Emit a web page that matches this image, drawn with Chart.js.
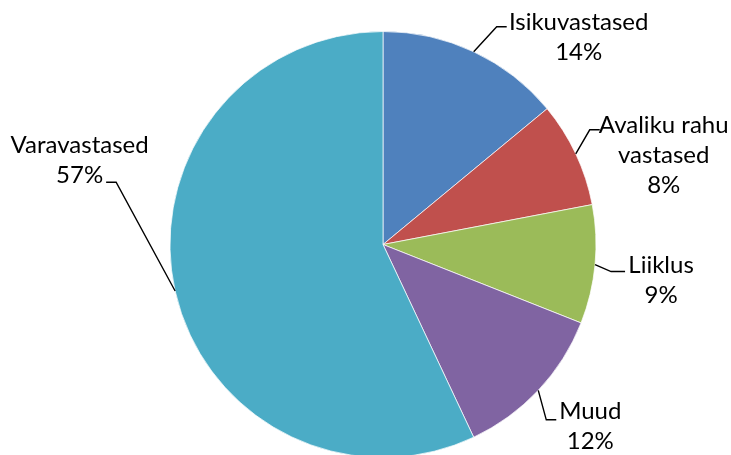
<!DOCTYPE html>
<html>
<head>
<meta charset="utf-8">
<script src="https://cdn.jsdelivr.net/npm/chart.js@4/dist/chart.umd.min.js"></script>
<style>
  html, body { margin: 0; padding: 0; background: #fff; }
  #wrap { width: 731px; height: 455px; }
</style>
</head>
<body>
<div id="wrap"><canvas id="pie" width="731" height="455"></canvas></div>
<script>
const categories = ['Isikuvastased', 'Avaliku rahu vastased', 'Liiklus', 'Muud', 'Varavastased'];
const shares = [14, 8, 9, 12, 57];
const sliceColors = ['#4F81BD', '#C0504D', '#9BBB59', '#8064A2', '#4BACC6'];

// leader line + text placement, relative to the slice's outer midpoint
const labelLayout = [
    { elbow: [23, -25], tail: 10, text: [72, -4.5], wrap: Infinity },
    { elbow: [14, -24], tail: 10, text: [64, -5], wrap: 140 },
    { elbow: [16, 7], tail: 14, text: [36, -6.5], wrap: Infinity },
    { elbow: [8, 29.5], tail: 10, text: [34, -8.5], wrap: Infinity },
    { elbow: [-59, -108.7], tail: -10, text: [-26.5, -36.5], wrap: Infinity }
];

const FONT = '24px Lato';
const LINE_H = 30;

function wrapText(ctx, str, maxW) {
    const words = str.split(' ');
    const lines = [];
    let cur = '';
    words.forEach(w => {
        const test = cur ? cur + ' ' + w : w;
        if (cur && ctx.measureText(test).width > maxW) {
            lines.push(cur);
            cur = w;
        } else {
            cur = test;
        }
    });
    if (cur) lines.push(cur);
    return lines;
}

const leaderLabels = {
    id: 'leaderLabels',
    afterDraw(chart) {
        const ctx = chart.ctx;
        const meta = chart.getDatasetMeta(0);
        const total = shares.reduce((a, b) => a + b, 0);
        ctx.save();
        ctx.font = FONT;
        ctx.fillStyle = '#000';
        ctx.strokeStyle = '#000';
        ctx.lineWidth = 1.4;
        ctx.textAlign = 'center';
        ctx.textBaseline = 'middle';
        meta.data.forEach((arc, i) => {
            const p = arc.getProps(['x', 'y', 'startAngle', 'endAngle', 'outerRadius'], true);
            const mid = (p.startAngle + p.endAngle) / 2;
            const sx = p.x + Math.cos(mid) * p.outerRadius;
            const sy = p.y + Math.sin(mid) * p.outerRadius;
            const lay = labelLayout[i];
            const ex = sx + lay.elbow[0], ey = sy + lay.elbow[1];
            const tx = ex + lay.tail;
            ctx.beginPath();
            ctx.moveTo(sx, sy);
            ctx.lineTo(ex, ey);
            ctx.lineTo(tx, ey);
            ctx.stroke();

            const lines = wrapText(ctx, categories[i], lay.wrap);
            lines.push(Math.round(shares[i] / total * 100) + '%');
            const cx = tx + lay.text[0];
            let cy = ey + lay.text[1];
            lines.forEach(line => {
                ctx.fillText(line, cx, cy);
                cy += LINE_H;
            });
        });
        ctx.restore();
    }
};

new Chart(document.getElementById('pie').getContext('2d'), {
    type: 'pie',
    data: {
        labels: categories,
        datasets: [{
            data: shares,
            backgroundColor: sliceColors,
            borderColor: 'rgba(255,255,255,0.7)',
            borderWidth: 1
        }]
    },
    options: {
        responsive: false,
        animation: false,
        radius: 213,
        layout: { padding: { left: 35, right: 0, top: 34, bottom: 0 } },
        plugins: {
            legend: { display: false },
            tooltip: { enabled: false }
        }
    },
    plugins: [leaderLabels]
});
</script>
</body>
</html>
